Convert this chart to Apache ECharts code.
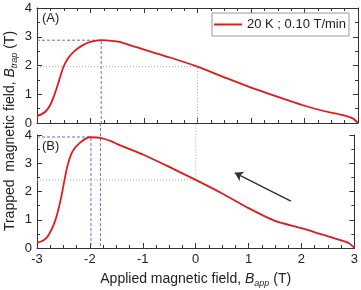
<!DOCTYPE html>
<html>
<head>
<meta charset="utf-8">
<script src="https://cdn.jsdelivr.net/npm/echarts@6/dist/echarts.min.js"></script>
<style>
  html, body { margin: 0; padding: 0; background: #fff; }
  #chart { width: 361px; height: 290px; }
</style>
</head>
<body>
<div id="chart"></div>
<script>
// 곡선 데이터 (A: 위 패널, B: 아래 패널) - [B_app, B_trap]
const curveA = [
  [-3, 0.25], [-2.92, 0.3], [-2.84, 0.4], [-2.76, 0.6], [-2.68, 0.95], [-2.6, 1.4],
  [-2.51, 1.93], [-2.42, 2.25], [-2.3, 2.5], [-2.15, 2.7], [-2.0, 2.82], [-1.8, 2.88],
  [-1.6, 2.86], [-1.46, 2.82], [-1.25, 2.7], [-1.0, 2.55], [-0.5, 2.27], [0, 1.96],
  [0.5, 1.59], [1.0, 1.23], [1.5, 0.91], [2.0, 0.6], [2.4, 0.4], [2.7, 0.28],
  [2.9, 0.16], [3, 0]
];
const curveB = [
  [-3, 0.18], [-2.9, 0.25], [-2.82, 0.36], [-2.76, 0.53], [-2.69, 0.8], [-2.63, 1.12],
  [-2.54, 1.82], [-2.48, 2.41], [-2.42, 2.94], [-2.33, 3.41], [-2.19, 3.72], [-2.0, 3.92],
  [-1.8, 3.9], [-1.6, 3.78], [-1.46, 3.66], [-1.25, 3.5], [-1.0, 3.31], [-0.5, 2.87],
  [0, 2.41], [0.5, 1.93], [1.0, 1.41], [1.5, 0.96], [2.0, 0.7], [2.4, 0.47],
  [2.7, 0.3], [2.9, 0.17], [3, 0]
];

// 보조선 (파란 점선 / 회색 점선)
const blueGuideA = [[-3, 2.88], [-1.8, 2.88], [-1.8, 0]];
const grayGuideA = [[-3, 1.96], [0, 1.96], [0, 0]];
const blueGuideB1 = [[-3, 3.93], [-1.98, 3.93], [-1.98, 0]];
const blueGuideB2 = [[-1.8, 4.42], [-1.8, 0]];
const grayGuideB = [[-3, 2.41], [0, 2.41], [0, 4.42]];

// 화살표 (시작 -> 끝)
const arrowB = [[1.8, 1.66], [0.74, 2.66]];

// 축 눈금
const xTicks = [-3, -2, -1, 0, 1, 2, 3];
const yTicks = [0, 1, 2, 3, 4];

const seriesName = '20 K ; 0.10 T/min';

const FONT = 'Liberation Sans, Arial, sans-serif';
const AXIS_COLOR = '#333';
const RED = '#e31a1c';
const BLUE = '#6a6ad8';
const GRAY = '#a8a8a8';

const chart = echarts.init(document.getElementById('chart'));

const makeX = (gridIndex, position, showLabel) => ({
  type: 'value',
  gridIndex,
  position,
  min: xTicks[0],
  max: xTicks[xTicks.length - 1],
  interval: 1,
  axisLine: { show: true, onZero: false, lineStyle: { color: AXIS_COLOR, width: 1 } },
  axisTick: { show: true, inside: true, length: 5, lineStyle: { color: AXIS_COLOR } },
  minorTick: { show: true, splitNumber: 4, length: 3, lineStyle: { color: AXIS_COLOR } },
  splitLine: { show: false },
  axisLabel: {
    show: showLabel,
    fontSize: 13,
    color: '#222',
    fontFamily: FONT,
    margin: 5,
  },
});

const makeY = (gridIndex, position, showLabel) => ({
  type: 'value',
  gridIndex,
  position,
  min: yTicks[0],
  max: yTicks[yTicks.length - 1],
  interval: 1,
  axisLine: { show: true, onZero: false, lineStyle: { color: AXIS_COLOR, width: 1 } },
  axisTick: { show: true, inside: true, length: 5, lineStyle: { color: AXIS_COLOR } },
  minorTick: { show: true, splitNumber: 2, length: 3, lineStyle: { color: AXIS_COLOR } },
  splitLine: { show: false },
  axisLabel: {
    show: showLabel,
    fontSize: 13,
    color: '#222',
    fontFamily: FONT,
    margin: 5,
  },
});

const xAxisBottom = makeX(1, 'bottom', true);
xAxisBottom.name = '{n|Applied magnetic field, }{b|B}{s|app}{n| (T)}';
xAxisBottom.nameLocation = 'middle';
xAxisBottom.nameGap = 23;
xAxisBottom.nameTextStyle = {
  fontFamily: FONT,
  rich: {
    n: { fontSize: 14, color: '#222', fontFamily: FONT, lineHeight: 17 },
    b: { fontSize: 14, color: '#222', fontStyle: 'italic', fontFamily: FONT, lineHeight: 17 },
    s: { fontSize: 9, color: '#222', fontStyle: 'italic', fontFamily: FONT, verticalAlign: 'bottom', lineHeight: 9 },
  },
};

const guide = (name, data, color, type, xi, yi) => ({
  name,
  type: 'line',
  xAxisIndex: xi,
  yAxisIndex: yi,
  data,
  symbol: 'none',
  clip: false,
  silent: true,
  lineStyle: { color, width: 1, type },
  z: 1,
});

const redLine = (data, xi, yi) => ({
  name: seriesName,
  type: 'line',
  xAxisIndex: xi,
  yAxisIndex: yi,
  data,
  smooth: 0.25,
  symbol: 'none',
  lineStyle: { color: RED, width: 1.8 },
  itemStyle: { color: RED },
  z: 3,
});

const option = {
  animation: false,
  grid: [
    { left: 37, right: 3, top: 8, height: 115 },
    { left: 37, right: 3, top: 135, height: 113 },
  ],
  xAxis: [
    makeX(0, 'bottom', false),
    makeX(0, 'top', false),
    xAxisBottom,
  ],
  yAxis: [
    makeY(0, 'left', true),
    makeY(0, 'right', false),
    makeY(1, 'left', true),
    makeY(1, 'right', false),
  ],
  legend: {
    data: [seriesName],
    left: 212,
    top: 13,
    padding: [5, 3, 5, 2],
    icon: 'rect',
    itemWidth: 28,
    itemHeight: 2,
    borderColor: '#9a9a9a',
    borderWidth: 1,
    borderRadius: 0,
    textStyle: { fontSize: 13, color: '#222', fontFamily: FONT },
  },
  graphic: [
    {
      type: 'text',
      left: 42,
      top: 12,
      style: { text: '(A)', fontSize: 13, fill: '#222', fontFamily: FONT },
    },
    {
      type: 'text',
      left: 42,
      top: 140,
      style: { text: '(B)', fontSize: 13, fill: '#222', fontFamily: FONT },
    },
    {
      type: 'text',
      x: 10,
      y: 131,
      rotation: Math.PI / 2,
      style: {
        text: '{n|Trapped  magnetic field, }{b|B}{s|trap}{n| (T)}',
        align: 'center',
        verticalAlign: 'middle',
        fontFamily: FONT,
        rich: {
          n: { fontSize: 14, fill: '#222', fontFamily: FONT, lineHeight: 17 },
          b: { fontSize: 14, fill: '#222', fontStyle: 'italic', fontFamily: FONT, lineHeight: 17 },
          s: { fontSize: 9, fill: '#222', fontStyle: 'italic', fontFamily: FONT, verticalAlign: 'bottom', lineHeight: 9 },
        },
      },
    },
  ],
  series: [
    guide('gA1', blueGuideA, BLUE, [3, 2], 0, 0),
    guide('gA2', grayGuideA, GRAY, [1, 2], 0, 0),
    guide('gB1', blueGuideB1, BLUE, [3, 2], 2, 2),
    guide('gB2', blueGuideB2, BLUE, [3, 2], 2, 2),
    guide('gB3', grayGuideB, GRAY, [1, 2], 2, 2),
    redLine(curveA, 0, 0),
    redLine(curveB, 2, 2),
    {
      type: 'lines',
      coordinateSystem: 'cartesian2d',
      xAxisIndex: 2,
      yAxisIndex: 2,
      symbol: ['none', 'arrow'],
      symbolSize: 8,
      silent: true,
      lineStyle: { color: '#333', width: 1.5, opacity: 1 },
      data: [{ coords: arrowB }],
    },
  ],
};

chart.setOption(option);
</script>
</body>
</html>
